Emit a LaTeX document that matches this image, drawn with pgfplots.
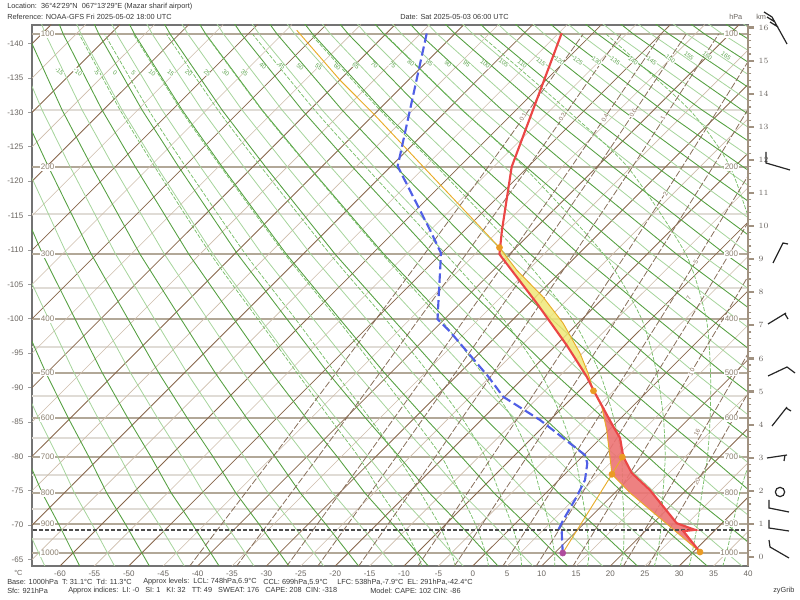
\documentclass[border=0pt]{standalone}
\usepackage{fontspec}
\setmainfont{Liberation Sans}[Ligatures=TeXOff]
\usepackage{pgfplots}
\usepackage{pgfplotstable}
\pgfplotsset{compat=1.18}
\definecolor{isoD}{RGB}{135,102,75}
\definecolor{isoL}{RGB}{205,188,170}
\definecolor{dryD}{RGB}{85,160,65}
\definecolor{dryL}{RGB}{165,212,155}
\definecolor{moistc}{RGB}{120,190,105}
\definecolor{mixc}{RGB}{135,110,90}
\definecolor{presD}{RGB}{178,168,152}
\definecolor{presL}{RGB}{224,220,214}
\definecolor{tred}{RGB}{235,70,70}
\definecolor{tdblue}{RGB}{80,95,230}
\definecolor{parcel}{RGB}{232,172,40}
\definecolor{capeY}{RGB}{240,232,120}
\definecolor{cinR}{RGB}{236,115,115}
\definecolor{txt}{RGB}{55,55,55}
\definecolor{ticktxt}{RGB}{105,100,95}
\definecolor{plab}{RGB}{140,128,112}
\definecolor{axframe}{RGB}{115,115,115}
\definecolor{kmcol}{RGB}{160,145,128}
\definecolor{glab}{RGB}{95,165,80}
\tikzset{
  dlab/.style={font=\fontsize{4.6}{5}\selectfont, text=glab, rotate=-38, inner sep=0.2pt, fill=white},
  plabL/.style={font=\fontsize{6}{7}\selectfont, text=plab, anchor=west, inner sep=0.5pt, fill=white},
  plabR/.style={font=\fontsize{6}{7}\selectfont, text=plab, anchor=east, inner sep=0.5pt, fill=white},
  mlab/.style={font=\fontsize{4.6}{5}\selectfont, text=mixc, rotate=62, inner sep=0.2pt, fill=white},
}

% dry adiabats: columns c0..c51 are theta = -65,-60,...,190 C; h in km
\pgfplotstableread{
h c0 c1 c2 c3 c4 c5 c6 c7 c8 c9 c10 c11 c12 c13 c14 c15 c16 c17 c18 c19 c20 c21 c22 c23 c24 c25 c26 c27 c28 c29 c30 c31 c32 c33 c34 c35 c36 c37 c38 c39 c40 c41 c42 c43 c44 c45 c46 c47 c48 c49 c50 c51
-0.29 -62.17 -57.10 -52.03 -46.96 -41.89 -36.82 -31.75 -26.68 -21.61 -16.54 -11.47 -6.40 -1.33 3.74 8.81 13.88 18.95 24.02 29.09 34.16 39.23 44.30 49.37 54.44 59.51 64.58 69.65 74.72 79.79 84.86 89.93 95.00 100.07 105.14 110.21 115.28 120.35 125.42 130.49 135.56 140.63 145.70 150.77 155.84 160.91 165.98 171.05 176.12 181.19 186.26 191.33 196.40
1.00 -65.06 -60.21 -55.36 -50.51 -45.65 -40.80 -35.95 -31.10 -26.25 -21.40 -16.54 -11.69 -6.84 -1.99 2.86 7.71 12.57 17.42 22.27 27.12 31.97 36.82 41.67 46.53 51.38 56.23 61.08 65.93 70.79 75.64 80.49 85.34 90.19 95.04 99.90 104.75 109.60 114.45 119.30 124.15 129.01 133.86 138.71 143.56 148.41 153.26 158.12 162.97 167.82 172.67 177.52 182.37
1.93 -67.27 -62.58 -57.89 -53.20 -48.51 -43.82 -39.12 -34.43 -29.74 -25.05 -20.36 -15.67 -10.98 -6.29 -1.60 3.10 7.79 12.48 17.17 21.86 26.55 31.24 35.93 40.63 45.32 50.01 54.70 59.39 64.08 68.77 73.46 78.15 82.85 87.54 92.23 96.92 101.61 106.30 110.99 115.68 120.38 125.07 129.76 134.45 139.14 143.83 148.52 153.21 157.91 162.60 167.29 171.98
3.02 -69.34 -64.82 -60.31 -55.79 -51.28 -46.76 -42.25 -37.73 -33.21 -28.70 -24.18 -19.67 -15.15 -10.64 -6.12 -1.61 2.91 7.43 11.94 16.46 20.97 25.49 30.00 34.52 39.03 43.55 48.07 52.58 57.10 61.61 66.13 70.64 75.16 79.67 84.19 88.71 93.22 97.74 102.25 106.77 111.28 115.80 120.31 124.83 129.34 133.86 138.38 142.89 147.41 151.92 156.44 160.95
4.20 -71.76 -67.44 -63.12 -58.80 -54.48 -50.15 -45.83 -41.51 -37.19 -32.87 -28.55 -24.23 -19.91 -15.59 -11.27 -6.94 -2.62 1.70 6.02 10.34 14.66 18.98 23.30 27.62 31.95 36.27 40.59 44.91 49.23 53.55 57.87 62.19 66.51 70.83 75.16 79.48 83.80 88.12 92.44 96.76 101.08 105.40 109.72 114.04 118.37 122.69 127.01 131.33 135.65 139.97 144.29 148.61
5.56 -74.35 -70.25 -66.15 -62.04 -57.94 -53.84 -49.74 -45.64 -41.53 -37.43 -33.33 -29.23 -25.13 -21.03 -16.92 -12.82 -8.72 -4.62 -0.52 3.58 7.69 11.79 15.89 19.99 24.09 28.19 32.30 36.40 40.50 44.60 48.70 52.81 56.91 61.01 65.11 69.21 73.31 77.42 81.52 85.62 89.72 93.82 97.92 102.03 106.13 110.23 114.33 118.43 122.54 126.64 130.74 134.84
7.19 -77.05 -73.21 -69.36 -65.51 -61.66 -57.81 -53.96 -50.11 -46.27 -42.42 -38.57 -34.72 -30.87 -27.02 -23.18 -19.33 -15.48 -11.63 -7.78 -3.93 -0.09 3.76 7.61 11.46 15.31 19.16 23.01 26.85 30.70 34.55 38.40 42.25 46.10 49.94 53.79 57.64 61.49 65.34 69.19 73.04 76.88 80.73 84.58 88.43 92.28 96.13 99.98 103.82 107.67 111.52 115.37 119.22
9.15 -80.27 -76.72 -73.18 -69.63 -66.09 -62.54 -59.00 -55.45 -51.91 -48.37 -44.82 -41.28 -37.73 -34.19 -30.64 -27.10 -23.55 -20.01 -16.46 -12.92 -9.37 -5.83 -2.28 1.26 4.80 8.35 11.89 15.44 18.98 22.53 26.07 29.62 33.16 36.71 40.25 43.80 47.34 50.89 54.43 57.97 61.52 65.06 68.61 72.15 75.70 79.24 82.79 86.33 89.88 93.42 96.97 100.51
11.78 -83.76 -80.60 -77.44 -74.29 -71.13 -67.97 -64.81 -61.66 -58.50 -55.34 -52.19 -49.03 -45.87 -42.72 -39.56 -36.40 -33.25 -30.09 -26.93 -23.77 -20.62 -17.46 -14.31 -11.15 -7.99 -4.83 -1.68 1.48 4.64 7.79 10.95 14.11 17.27 20.42 23.58 26.74 29.89 33.05 36.21 39.36 42.52 45.68 48.83 51.99 55.15 58.30 61.46 64.62 67.78 70.93 74.09 77.25
13.50 -85.85 -82.94 -80.04 -77.13 -74.22 -71.31 -68.40 -65.50 -62.59 -59.68 -56.77 -53.87 -50.96 -48.05 -45.14 -42.23 -39.33 -36.42 -33.51 -30.60 -27.70 -24.79 -21.88 -18.97 -16.06 -13.16 -10.25 -7.34 -4.43 -1.53 1.38 4.29 7.20 10.11 13.01 15.92 18.83 21.74 24.65 27.55 30.46 33.37 36.28 39.18 42.09 45.00 47.91 50.82 53.72 56.63 59.54 62.45
15.80 -88.02 -85.43 -82.84 -80.25 -77.66 -75.07 -72.48 -69.89 -67.30 -64.71 -62.12 -59.53 -56.94 -54.35 -51.76 -49.17 -46.58 -43.99 -41.40 -38.81 -36.22 -33.63 -31.04 -28.45 -25.86 -23.27 -20.68 -18.09 -15.50 -12.91 -10.32 -7.73 -5.14 -2.55 0.04 2.63 5.22 7.81 10.40 12.99 15.58 18.17 20.76 23.35 25.94 28.53 31.12 33.71 36.30 38.89 41.48 44.07
16.40 -88.34 -85.83 -83.31 -80.80 -78.29 -75.78 -73.26 -70.75 -68.24 -65.72 -63.21 -60.70 -58.18 -55.67 -53.16 -50.65 -48.13 -45.62 -43.11 -40.59 -38.08 -35.57 -33.05 -30.54 -28.03 -25.51 -23.00 -20.49 -17.98 -15.46 -12.95 -10.44 -7.92 -5.41 -2.90 -0.38 2.13 4.64 7.16 9.67 12.18 14.69 17.21 19.72 22.23 24.74 27.26 29.77 32.29 34.80 37.31 39.82
}\dry

% moist (pseudo) adiabats, theta_w = -10,-5,0,5,...,35 C
\pgfplotstableread{
h mA mB mC mD mE mF mG mH mI mJ
-0.29 -7.40 -2.50 2.30 7.10 11.90 16.65 21.40 26.35 31.45 36.30
0.12 -8.12 -3.12 1.88 6.88 11.88 16.88 21.88 26.88 31.88 36.88
1.00 -10.31 -4.94 0.36 5.63 11.09 16.56 21.99 27.41 32.66 37.81
1.93 -13.33 -7.58 -1.85 3.90 9.85 15.83 21.78 27.64 33.30 38.78
3.02 -16.58 -10.89 -4.51 1.83 8.37 14.88 21.63 27.96 34.10 40.40
4.20 -20.82 -15.00 -8.67 -1.57 5.71 12.96 20.48 27.71 34.50 41.50
5.56 -25.54 -19.96 -13.65 -6.42 1.32 9.85 18.45 26.75 34.55 42.00
7.19 -31.26 -25.77 -19.71 -12.70 -4.70 4.44 14.46 24.54 33.94 41.90
9.15 -38.09 -33.03 -27.31 -20.74 -13.13 -3.93 6.82 19.02 30.97 41.57
11.78 -46.20 -41.69 -36.59 -30.75 -23.83 -15.54 -5.19 7.44 22.52 37.42
13.50 -51.25 -47.10 -42.40 -37.02 -30.65 -22.96 -13.47 -1.45 13.75 31.55
15.80 -57.21 -53.51 -49.33 -44.54 -38.86 -32.01 -23.56 -12.81 0.96 19.38
}\moist

% mixing ratio lines (g/kg): x at given h
\pgfplotstableread{
h w01 w02 w04 w06 w1 w2
-0.29 -41.21 -34.39 -27.09 -22.58 -16.64 -8.05
1.45 -34.83 -28.14 -21.00 -16.58 -10.77 -2.37
3.02 -29.07 -22.51 -15.49 -11.16 -5.47 2.76
5.56 -19.89 -13.53 -6.73 -2.55 2.96 10.90
9.15 -7.05 -0.98 5.49 9.47 14.71 22.25
11.78 2.21 8.07 14.30 18.14 23.17 30.41
15.80 16.04 21.56 27.41 31.01 35.72 42.50
}\mix
\pgfplotstableread{
h w3 w5 w7 w10 w16 w20
-0.29 -2.73 4.32 9.17 14.51 21.84 25.43
1.45 2.83 9.71 14.44 19.65 26.79 30.30
3.02 7.85 14.58 19.21 24.30 31.29 34.71
5.56 15.81 22.30 26.76 31.66 38.37 41.65
7.19 20.92 27.25 31.60 36.37 42.91 46.00
9.15 26.91 33.07 37.26 41.88 48.00 52.00
11.78 34.88 40.77 44.80 50.00 56.00 60.00
15.80 46.66 55.00 60.00 65.00 70.00 75.00
}\mixB

% observed profiles: x = skewed temperature scale (deg C at the bottom edge), h = km
\pgfplotstableread{
x h
12.92 15.83
5.65 11.79
4.24 9.88
3.87 9.15
9.29 7.67
13.65 6.40
16.56 5.45
17.51 5.05
20.42 3.94
21.40 3.60
21.87 3.03
23.10 2.54
25.76 2.02
29.64 1.02
32.30 0.82
30.60 0.78
33.02 0.15
}\temp
\pgfplotstableread{
x h
-6.70 15.82
-10.92 11.81
-6.22 9.88
-4.62 9.18
-5.13 7.19
-3.31 6.81
2.25 5.45
4.43 4.84
9.77 4.14
16.31 3.08
16.64 2.83
16.31 2.33
15.10 1.82
13.15 1.12
12.43 0.82
12.92 0.76
13.07 0.12
}\dew
\pgfplotstableread{
x h
20.23 2.50
19.46 3.84
18.74 4.54
17.54 5.02
16.74 5.56
15.58 6.16
13.11 7.07
10.20 7.86
6.38 8.67
3.88 9.35
1.48 9.88
-7.19 11.79
-14.46 13.40
-19.30 14.41
-25.60 15.92
}\moistpar

\begin{document}
\begin{tikzpicture}
\path[use as bounding box] (0pt,0pt) rectangle (600pt,450pt);
\begin{axis}[
  at={(24pt,25.5pt)}, anchor=south west,
  width=537pt, height=406.1pt, scale only axis,
  xmin=-64.07, xmax=40, ymin=-0.272, ymax=16.09,
  unbounded coords=jump,
  axis line style={draw=axframe, line width=1.5pt},
  xtick={-60,-55,...,40},
  xticklabels={-60,-55,-50,-45,-40,-35,-30,-25,-20,-15,-10,-5,0,5,10,15,20,25,30,35,40},
  ytick={-0.077,0.962,2.001,3.041,4.080,5.120,6.159,7.198,8.238,9.277,10.316,11.356,12.395,13.434,14.474,15.513},
  yticklabels={-65,-70,-75,-80,-85,-90,-95,-100,-105,-110,-115,-120,-125,-130,-135,-140},
  xtick pos=bottom, ytick pos=left,
  tick align=outside, major tick length=3pt,
  xtick style={draw=none},
  ytick style={draw=axframe!70, line width=0.6pt},
  tick label style={font=\fontsize{6}{7}\selectfont, text=ticktxt},
  xticklabel style={yshift=2.5pt},
]
% pressure lines
\addplot[presL, line width=1.5pt] coordinates {
(-70,13.50) (45,13.50) (nan,nan) (-70,10.36) (45,10.36) (nan,nan)
(-70,8.13) (45,8.13) (nan,nan) (-70,6.34) (45,6.34) (nan,nan)
(-70,4.86) (45,4.86) (nan,nan) (-70,3.60) (45,3.60) (nan,nan)
(-70,2.48) (45,2.48) (nan,nan) (-70,1.45) (45,1.45) (nan,nan)
(-70,0.54) (45,0.54)};
\addplot[presD, line width=1.5pt] coordinates {
(-70,15.80) (45,15.80) (nan,nan) (-70,11.78) (45,11.78) (nan,nan)
(-70,9.15) (45,9.15) (nan,nan) (-70,7.19) (45,7.19) (nan,nan)
(-70,5.56) (45,5.56) (nan,nan) (-70,4.20) (45,4.20) (nan,nan)
(-70,3.02) (45,3.02) (nan,nan) (-70,1.93) (45,1.93) (nan,nan)
(-70,1.00) (45,1.00) (nan,nan) (-70,0.12) (45,0.12)};
% isotherms
\addplot[isoL, line width=0.45pt] coordinates {
(-145,-0.272) (-66.28,16.09) (nan,nan) (-135,-0.272) (-56.28,16.09) (nan,nan)
(-125,-0.272) (-46.28,16.09) (nan,nan) (-115,-0.272) (-36.28,16.09) (nan,nan)
(-105,-0.272) (-26.28,16.09) (nan,nan) (-95,-0.272) (-16.28,16.09) (nan,nan)
(-85,-0.272) (-6.28,16.09) (nan,nan) (-75,-0.272) (3.72,16.09) (nan,nan)
(-65,-0.272) (13.72,16.09) (nan,nan) (-55,-0.272) (23.72,16.09) (nan,nan)
(-45,-0.272) (33.72,16.09) (nan,nan) (-35,-0.272) (43.72,16.09) (nan,nan)
(-25,-0.272) (53.72,16.09) (nan,nan) (-15,-0.272) (63.72,16.09) (nan,nan)
(-5,-0.272) (73.72,16.09) (nan,nan) (5,-0.272) (83.72,16.09) (nan,nan)
(15,-0.272) (93.72,16.09) (nan,nan) (25,-0.272) (103.72,16.09) (nan,nan)
(35,-0.272) (113.72,16.09)};
\addplot[isoD, line width=0.6pt] coordinates {
(-140,-0.272) (-61.28,16.09) (nan,nan) (-130,-0.272) (-51.28,16.09) (nan,nan)
(-120,-0.272) (-41.28,16.09) (nan,nan) (-110,-0.272) (-31.28,16.09) (nan,nan)
(-100,-0.272) (-21.28,16.09) (nan,nan) (-90,-0.272) (-11.28,16.09) (nan,nan)
(-80,-0.272) (-1.28,16.09) (nan,nan) (-70,-0.272) (8.72,16.09) (nan,nan)
(-60,-0.272) (18.72,16.09) (nan,nan) (-50,-0.272) (28.72,16.09) (nan,nan)
(-40,-0.272) (38.72,16.09) (nan,nan) (-30,-0.272) (48.72,16.09) (nan,nan)
(-20,-0.272) (58.72,16.09) (nan,nan) (-10,-0.272) (68.72,16.09) (nan,nan)
(0,-0.272) (78.72,16.09) (nan,nan) (10,-0.272) (88.72,16.09) (nan,nan)
(20,-0.272) (98.72,16.09) (nan,nan) (30,-0.272) (108.72,16.09) (nan,nan)
(40,-0.272) (118.72,16.09)};
% dry adiabats
\pgfplotsinvokeforeach{0,2,...,50}{\addplot[dryL, line width=0.6pt] table[x=c#1,y=h]{\dry};}
\pgfplotsinvokeforeach{1,3,...,51}{\addplot[dryD, line width=0.65pt] table[x=c#1,y=h]{\dry};}
% moist adiabats
\pgfplotsinvokeforeach{mA,mB,mC,mD,mE,mF,mG,mH,mI,mJ}{\addplot[moistc, line width=0.55pt, dash pattern=on 3pt off 1.2pt, smooth, tension=0.4] table[x=#1,y=h]{\moist};}
% mixing ratio lines
\pgfplotsinvokeforeach{w01,w02,w04,w06,w1,w2}{\addplot[mixc, line width=0.6pt, dash pattern=on 5pt off 1.5pt] table[x=#1,y=h]{\mix};}
\pgfplotsinvokeforeach{w3,w5,w7,w10,w16,w20}{\addplot[mixc, line width=0.6pt, dash pattern=on 5pt off 1.5pt] table[x=#1,y=h]{\mixB};}
% dry adiabat labels
\foreach \t/\xx/\hh in {-15/-60.1/14.67,-10/-57.4/14.66,-5/-54.7/14.65,0/-52.0/14.64,5/-49.3/14.63,10/-46.6/14.62,15/-43.9/14.62,20/-41.3/14.62,25/-38.6/14.62,30/-35.9/14.62,35/-33.2/14.64,40/-30.5/14.83,45/-27.8/14.84,50/-25.1/14.81,55/-22.4/14.81,60/-19.7/14.81,65/-17.0/14.83,70/-14.3/14.86,75/-11.7/14.86,80/-9.0/14.92,85/-6.3/14.92,90/-3.6/14.89,95/-0.9/14.89,100/1.8/14.89,105/4.5/14.92,110/7.2/14.89,115/9.9/14.95,120/12.6/14.98,125/15.3/14.98,130/18.0/14.98,135/20.7/14.98,140/23.3/14.98,145/26.0/14.98,150/28.7/15.04,155/31.4/15.14,160/34.1/15.14,165/36.8/15.14}{
  \edef\tmp{\noexpand\node[dlab] at (axis cs:\xx,\hh) {\t};}\tmp
}
% pressure labels
\foreach \p/\hh in {100/15.80,200/11.78,300/9.15,400/7.19,500/5.56,600/4.20,700/3.02,800/1.93,900/1.00,1000/0.12}{
  \edef\tmp{\noexpand\node[plabL] at (axis cs:-62.9,\hh) {\p};
  \noexpand\node[plabR] at (axis cs:38.7,\hh) {\p};}\tmp
}
% mixing ratio labels
\foreach \w/\xx/\hh in {0.1/7.3/13.29,0.2/13.0/13.29,0.4/19.2/13.26,0.6/23.3/13.41,1/27.6/13.26,2/28.0/10.97,5/32.4/8.91,7/31.4/7.82,10/31.8/5.59,16/32.6/3.76,20/32.6/2.27}{
  \edef\tmp{\noexpand\node[mlab] at (axis cs:\xx,\hh) {\w};}\tmp
}
% CAPE and CIN areas
\addplot[fill=capeY, draw=none, fill opacity=0.85] coordinates {
(17.54,5.02) (16.74,5.56) (15.58,6.16) (13.11,7.07) (10.20,7.86) (6.38,8.67) (3.88,9.35)
(3.90,9.22) (9.29,7.67) (13.65,6.40) (16.56,5.45) (17.51,5.05)} -- cycle;
\addplot[fill=cinR, draw=none, fill opacity=0.9] coordinates {
(33.02,0.15) (28.19,1.00) (22.89,1.93) (20.23,2.50) (19.46,3.84) (18.74,4.54) (17.54,5.02)
(20.42,3.94) (21.40,3.60) (21.87,3.03) (23.10,2.54) (25.76,2.02) (29.64,1.02) (32.30,0.82) (30.60,0.78)} -- cycle;
% parcel path
\addplot[parcel, line width=0.7pt] coordinates {(33.02,0.15) (28.19,1.00) (22.89,1.93) (20.23,2.50)};
\addplot[parcel, line width=0.7pt] coordinates {(13.07,0.12) (20.23,2.50) (21.74,3.02)};
\addplot[parcel, line width=0.7pt] table[x=x,y=h]{\moistpar};
% surface line
\addplot[black!70, line width=1pt, dash pattern=on 3pt off 1.5pt] coordinates {(-70,0.82) (45,0.82)};
% profiles
\addplot[tdblue, line width=1.6pt, dash pattern=on 7pt off 3pt] table[x=x,y=h]{\dew};
\addplot[tred, line width=1.6pt] table[x=x,y=h]{\temp};
\addplot[only marks, mark=*, mark size=2.3pt, color=parcel!90!red] coordinates {(33.02,0.15) (20.23,2.50) (21.74,3.02) (17.54,5.02) (3.88,9.35)};
\addplot[only marks, mark=*, mark size=2.3pt, color=blue!45!red!70!white] coordinates {(13.07,0.12)};
\end{axis}
% km axis
\begin{axis}[
  at={(24pt,25.5pt)}, anchor=south west,
  width=537pt, height=406.1pt, scale only axis,
  xmin=-64.07, xmax=40, ymin=-0.272, ymax=16.09,
  axis x line=none, axis y line*=right,
  y axis line style={draw=kmcol, line width=2.2pt, -},
  ytick={0,...,16}, minor y tick num=4,
  tick align=outside, major tick length=4.5pt, minor tick length=2.5pt,
  every major tick/.style={draw=kmcol, line width=1.6pt},
  every minor tick/.style={draw=kmcol, line width=0.9pt},
  yticklabel style={font=\fontsize{6.5}{7}\selectfont, text=ticktxt},
]
\addplot[draw=none] coordinates {(0,0)};
\end{axis}
% wind barbs (pixel frame)
\begin{axis}[
  at={(0pt,0pt)}, anchor=south west,
  width=600pt, height=450pt, scale only axis,
  xmin=0, xmax=800, ymin=-600, ymax=0,
  hide axis, clip=false, unbounded coords=jump,
]
\addplot[black!85, line width=0.9pt] coordinates {(787,-44) (772,-17) (nan,nan) (772,-17) (764,-12) (nan,nan) (775,-22) (767,-17) (nan,nan) (778,-27) (770,-22)};
\addplot[black!85, line width=0.9pt] coordinates {(766,-152) (766,-163) (790,-170)};
\addplot[black!85, line width=0.9pt] coordinates {(773,-263) (783,-243) (788,-244)};
\addplot[black!85, line width=0.9pt] coordinates {(768,-324) (786,-313) (nan,nan) (785,-314) (788,-319)};
\addplot[black!85, line width=0.9pt] coordinates {(768,-376) (787,-367) (795,-373)};
\addplot[black!85, line width=0.9pt] coordinates {(772,-426) (787,-407) (nan,nan) (786,-408) (791,-411)};
\addplot[black!85, line width=0.9pt] coordinates {(767,-458) (787,-455) (nan,nan) (785,-455) (784,-461)};
\addplot[black!85, line width=0.9pt, mark=o, mark size=3.5pt, only marks] coordinates {(780,-492)};
\addplot[black!85, line width=0.9pt] coordinates {(769,-500) (769,-508) (789,-512)};
\addplot[black!85, line width=0.9pt] coordinates {(769,-520) (769,-528) (789,-531)};
\addplot[black!85, line width=0.9pt] coordinates {(769,-540) (770,-547) (789,-558)};
\end{axis}
% texts
\begin{scope}[x=0.75pt, y=0.75pt, font=\fontsize{5.5}{6.5}\selectfont, text=txt]
\node[anchor=west, inner sep=0] at (7,593) {Location:\ \ 36°42'29"N\ \ 067°13'29"E (Mazar sharif airport)};
\node[anchor=west, inner sep=0] at (7,583) {Reference: NOAA-GFS Fri 2025-05-02 18:00 UTC};
\node[anchor=west, inner sep=0] at (400,583) {Date: Sat 2025-05-03 06:00 UTC};
\node[anchor=west, inner sep=0, text=ticktxt] at (729,583) {hPa};
\node[anchor=west, inner sep=0, text=ticktxt] at (756,583) {km};
\node[anchor=west, inner sep=0, text=ticktxt] at (14,27) {°C};
\node[anchor=west, inner sep=0] at (7,18) {Base: 1000hPa\ \ T: 31.1°C\ \ Td: 11.3°C};
\node[anchor=west, inner sep=0] at (143,18) {Approx levels:\ \ LCL: 748hPa,6.9°C};
\node[anchor=west, inner sep=0] at (263,18) {CCL: 699hPa,5.9°C};
\node[anchor=west, inner sep=0] at (337,18) {LFC: 538hPa,-7.9°C};
\node[anchor=west, inner sep=0] at (407,18) {EL: 291hPa,-42.4°C};
\node[anchor=west, inner sep=0] at (7,9) {Sfc: 921hPa};
\node[anchor=west, inner sep=0] at (68,9) {Approx indices:\ \ LI: -0\ \ \ SI: 1\ \ \ KI: 32\ \ \ TT: 49\ \ \ SWEAT: 176\ \ \ CAPE: 208\ \ CIN: -318};
\node[anchor=west, inner sep=0] at (370,9) {Model: CAPE: 102 CIN: -86};
\node[anchor=west, inner sep=0] at (773,9) {zyGrib};
\end{scope}
\end{tikzpicture}
\end{document}
